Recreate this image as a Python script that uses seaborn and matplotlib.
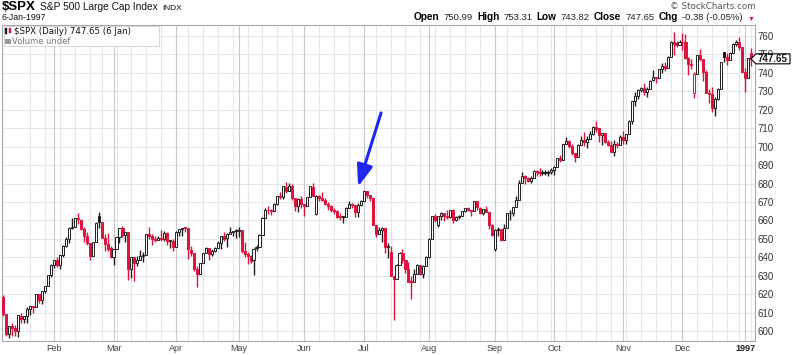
import numpy as np
import pandas as pd
import matplotlib
matplotlib.use('Agg')
import matplotlib.pyplot as plt
import seaborn as sns
from matplotlib.offsetbox import TextArea, HPacker, AnnotationBbox
from matplotlib.patches import Rectangle, Polygon
import matplotlib.transforms as mtrans

# =============================================================================
# data ($SPX daily, 9 Jan 1996 - 6 Jan 1997)
# =============================================================================
holidays = ['1996-02-19', '1996-04-05', '1996-05-27', '1996-07-04',
            '1996-09-02', '1996-11-28', '1996-12-25', '1997-01-01']
dates = pd.bdate_range('1996-01-09', '1997-01-06', freq='C', holidays=holidays)

month_labels = ['Feb', 'Mar', 'Apr', 'May', 'Jun', 'Jul', 'Aug', 'Sep',
                'Oct', 'Nov', 'Dec', '1997']

opens = [
    # Jan
    618.5, 609.5, 598.5, 602.7, 601.8, 599.8, 608.4, 606.4, 608.2, 611.8, 613.4, 612.8, 620.0, 617.0, 621.6, 624.2, 630.2,
    # Feb
    636.0, 638.5, 635.8, 641.4, 646.3, 649.9, 656.1, 656.4, 661.5, 660.5, 655.6, 651.3, 648.0, 640.7, 648.1, 662.5, 659.1, 650.5, 647.2, 644.8,
    # Mar
    640.4, 644.4, 650.8, 655.8, 652.0, 653.7, 633.5, 640.0, 637.1, 638.6, 640.9, 641.4, 652.7, 651.7, 650.0, 649.2, 650.6, 650.0, 653.0, 648.9, 648.9,
    # Apr
    645.5, 653.7, 655.3, 655.9, 655.9, 644.2, 642.2, 633.5, 631.2, 636.7, 642.5, 645.0, 641.6, 643.6, 645.1, 647.9, 651.6, 650.2, 652.9, 653.5, 654.2,
    # May
    654.2, 654.6, 643.4, 641.6, 640.8, 638.3, 644.8, 645.4, 652.1, 661.5, 665.6, 665.4, 664.9, 668.9, 673.2, 672.8, 678.4, 676.0, 678.5, 672.2, 667.9, 671.7,
    # Jun
    669.1, 667.7, 672.6, 678.4, 663.5, 673.3, 672.2, 671.0, 669.0, 667.9, 665.9, 665.2, 662.1, 662.0, 662.1, 666.8, 668.9, 668.5, 664.4, 668.6,
    # Jul
    670.6, 675.9, 673.6, 672.4, 657.4, 652.5, 654.8, 656.1, 645.7, 643.0, 629.8, 628.4, 635.9, 642.5, 638.7, 633.8, 626.9, 626.7, 631.2, 635.9, 630.9, 635.3,
    # Aug
    640.0, 650.0, 662.5, 657.5, 662.4, 664.2, 662.6, 662.1, 665.8, 660.2, 662.1, 662.3, 665.2, 666.6, 665.7, 665.1, 670.7, 667.0, 663.9, 666.4, 664.8, 657.4,
    # Sep
    644.5, 654.7, 655.6, 649.4, 655.7, 663.8, 663.8, 667.3, 671.2, 680.5, 684.0, 682.9, 681.5, 683.0, 687.0, 686.5, 685.6, 685.8, 685.9, 686.2,
    # Oct
    687.3, 689.1, 694.0, 692.8, 701.5, 703.3, 700.6, 696.7, 694.6, 700.7, 703.5, 702.6, 704.4, 707.0, 710.8, 709.9, 706.6, 707.3, 702.3, 700.9, 697.3, 701.5, 700.9,
    # Nov
    705.3, 703.8, 706.7, 714.1, 724.6, 727.7, 730.8, 731.9, 729.6, 731.1, 735.9, 737.6, 737.0, 742.2, 744.0, 742.8, 748.7, 757.0, 756.0, 755.0,
    # Dec
    757.0, 756.6, 748.3, 745.1, 729.0, 739.6, 749.8, 747.5, 740.7, 729.3, 728.6, 721.0, 726.0, 731.5, 751.5, 748.9, 746.9, 751.0, 755.8, 756.8, 753.9,
    # Jan 97
    740.7, 737.0, 750.99,
]
highs = [
    619.3, 609.5, 603.0, 604.4, 603.2, 608.5, 609.9, 608.3, 612.9, 613.8, 613.4, 620.0, 620.2, 621.7, 624.5, 630.3, 636.2,
    638.5, 640.0, 641.4, 646.5, 651.2, 656.5, 661.1, 661.5, 664.2, 661.0, 656.7, 653.6, 648.0, 648.3, 659.1, 664.6, 659.1, 652.7, 653.1, 646.2,
    644.4, 651.0, 655.8, 656.9, 653.7, 653.7, 640.4, 640.0, 640.5, 644.2, 642.9, 652.7, 656.2, 652.6, 651.3, 651.6, 654.6, 654.2, 653.5, 649.6, 650.0,
    654.0, 655.3, 655.9, 656.6, 655.9, 646.3, 642.2, 635.3, 636.8, 642.6, 645.8, 645.0, 644.3, 645.8, 648.7, 651.6, 653.5, 653.2, 656.6, 654.5, 655.2,
    656.4, 654.6, 648.4, 642.8, 641.2, 645.2, 646.9, 652.4, 661.6, 666.9, 667.8, 666.3, 669.5, 673.2, 675.6, 678.4, 681.1, 680.3, 679.9, 672.2, 672.2, 673.4,
    669.1, 672.6, 678.4, 680.3, 673.6, 673.7, 675.2, 672.4, 669.8, 668.4, 666.9, 665.6, 664.0, 662.2, 667.5, 670.3, 669.7, 668.5, 669.5, 671.3,
    675.9, 675.9, 673.6, 672.4, 657.6, 656.6, 656.3, 656.1, 647.8, 646.2, 629.8, 636.6, 643.1, 644.3, 638.7, 637.7, 629.8, 633.6, 636.3, 635.9, 635.6, 640.7,
    650.2, 662.5, 663.6, 662.4, 664.3, 664.2, 665.4, 665.8, 666.2, 662.5, 663.1, 665.2, 666.9, 667.3, 665.7, 670.7, 670.7, 667.1, 666.4, 667.8, 664.8, 658.3,
    655.6, 656.6, 655.6, 657.8, 663.8, 665.6, 667.5, 673.5, 681.9, 686.5, 684.5, 683.4, 684.1, 687.1, 687.1, 688.7, 687.1, 687.6, 687.1, 688.3,
    689.5, 694.1, 695.4, 701.7, 705.2, 703.6, 701.7, 696.7, 701.5, 705.7, 708.1, 705.6, 708.7, 711.1, 714.1, 709.9, 707.3, 707.3, 703.4, 703.2, 703.4, 702.5, 706.3,
    708.7, 707.0, 714.6, 724.6, 729.5, 731.4, 732.6, 734.7, 732.1, 735.9, 741.4, 737.9, 742.2, 745.6, 745.8, 749.1, 757.2, 762.1, 757.4, 757.9,
    761.8, 761.2, 748.4, 747.7, 740.5, 749.8, 753.0, 747.5, 741.5, 731.5, 732.4, 727.1, 731.9, 746.1, 751.6, 750.6, 751.1, 756.2, 758.1, 759.4, 753.9,
    742.8, 748.2, 753.31,
]
lows = [
    608.2, 597.3, 596.0, 597.5, 597.3, 597.0, 604.1, 604.4, 604.5, 608.9, 610.0, 612.8, 615.3, 614.4, 620.4, 624.2, 629.2,
    634.2, 634.5, 633.7, 639.9, 645.4, 647.9, 655.6, 656.4, 657.9, 654.7, 648.1, 646.5, 638.8, 640.7, 648.1, 655.9, 650.2, 643.6, 643.4, 639.5,
    636.0, 644.4, 647.7, 651.1, 648.5, 627.6, 629.0, 627.3, 635.2, 638.6, 637.2, 641.4, 649.9, 646.8, 648.3, 649.2, 648.9, 648.9, 646.6, 645.2, 643.5,
    645.5, 651.8, 651.8, 653.5, 638.9, 640.7, 632.5, 624.1, 631.2, 636.7, 642.1, 638.7, 640.8, 643.0, 645.1, 644.6, 648.9, 645.8, 652.9, 651.6, 650.7,
    650.8, 642.1, 640.3, 636.4, 636.9, 630.5, 643.6, 645.4, 652.1, 661.5, 663.6, 663.0, 664.9, 668.6, 671.7, 671.7, 674.8, 676.0, 671.1, 665.1, 664.8, 666.7,
    662.3, 667.7, 672.6, 673.0, 662.8, 670.6, 670.4, 668.4, 665.7, 664.5, 663.5, 661.5, 660.5, 658.6, 662.1, 666.8, 666.5, 662.1, 661.6, 667.7,
    670.6, 672.1, 670.6, 657.4, 651.1, 652.5, 648.4, 642.4, 639.6, 629.7, 605.9, 628.4, 635.9, 637.1, 631.5, 626.4, 617.5, 626.6, 631.2, 630.5, 629.0, 635.3,
    639.5, 650.0, 659.1, 656.4, 660.1, 659.6, 660.8, 661.1, 658.8, 659.6, 660.8, 662.3, 664.6, 665.1, 662.2, 665.0, 665.8, 663.3, 663.1, 664.4, 655.3, 651.7,
    643.5, 651.5, 648.6, 649.4, 655.7, 660.5, 662.2, 667.3, 671.2, 680.5, 679.7, 680.7, 680.1, 683.0, 683.9, 683.9, 684.8, 684.7, 684.3, 685.2,
    684.4, 689.1, 691.7, 692.8, 701.4, 699.3, 695.7, 691.9, 694.6, 700.7, 700.1, 699.4, 704.4, 706.1, 707.7, 702.6, 700.8, 701.9, 700.6, 696.9, 695.2, 699.5, 700.9,
    701.3, 701.4, 706.7, 712.5, 722.3, 725.9, 729.9, 728.2, 727.2, 731.1, 735.4, 734.4, 737.0, 740.2, 741.0, 742.8, 748.7, 749.5, 754.2, 755.0,
    752.7, 747.6, 738.8, 742.2, 726.3, 739.6, 746.4, 735.8, 729.0, 723.9, 718.9, 716.7, 725.3, 731.5, 745.8, 744.4, 746.9, 751.0, 754.4, 752.3, 740.7,
    729.6, 737.0, 743.82,
]
closes = [
    609.45, 598.48, 602.69, 601.81, 599.82, 608.44, 606.37, 608.24, 611.83, 613.40, 612.79, 619.96, 617.03, 621.62, 624.22, 630.15, 636.02,
    638.46, 635.84, 641.43, 646.33, 649.93, 656.07, 656.37, 661.45, 660.51, 655.58, 651.32, 647.98, 640.65, 648.10, 658.86, 659.08, 650.46, 647.24, 644.75, 640.43,
    644.37, 650.81, 655.79, 652.00, 653.65, 633.50, 640.02, 637.09, 638.55, 640.87, 641.43, 652.65, 651.69, 649.98, 649.19, 650.62, 650.04, 652.97, 648.91, 648.94, 645.50,
    653.73, 655.26, 655.88, 655.86, 644.24, 642.19, 633.50, 631.18, 636.71, 642.49, 645.00, 641.61, 643.61, 645.07, 647.89, 651.58, 650.17, 652.87, 653.46, 654.16, 654.17,
    654.58, 643.38, 641.63, 640.81, 638.26, 644.77, 645.44, 652.09, 661.51, 665.60, 665.42, 664.85, 668.91, 673.15, 672.76, 678.42, 676.00, 678.51, 672.23, 667.93, 671.70, 669.12,
    667.68, 672.56, 678.44, 673.03, 673.31, 672.16, 670.97, 669.04, 667.92, 665.85, 665.16, 662.06, 661.96, 662.10, 666.84, 668.85, 668.48, 664.39, 668.55, 670.63,
    675.88, 673.61, 672.40, 657.44, 652.54, 654.75, 656.06, 645.67, 646.19, 629.80, 628.37, 635.86, 642.49, 638.73, 633.77, 626.87, 626.65, 631.17, 635.90, 630.91, 635.26, 639.95,
    650.02, 662.49, 660.23, 662.38, 664.16, 662.59, 662.10, 665.77, 660.20, 662.05, 662.28, 665.21, 666.58, 665.69, 665.07, 670.68, 667.03, 663.88, 666.40, 664.81, 657.40, 651.99,
    654.72, 655.61, 649.44, 655.68, 663.76, 663.81, 667.28, 671.15, 680.54, 683.98, 682.94, 681.47, 683.00, 687.03, 686.48, 685.61, 685.83, 685.86, 686.19, 687.31,
    689.08, 694.01, 692.78, 701.46, 703.34, 700.64, 696.74, 694.61, 700.66, 703.54, 702.57, 704.41, 706.99, 710.82, 709.85, 706.57, 707.27, 702.29, 700.92, 697.26, 701.50, 700.90, 705.27,
    703.77, 706.73, 714.14, 724.59, 727.65, 730.82, 731.87, 729.56, 731.13, 735.88, 737.62, 737.02, 742.16, 743.95, 742.75, 748.73, 757.03, 755.96, 755.00, 757.02,
    756.56, 748.28, 745.10, 744.38, 739.60, 749.76, 747.54, 740.73, 729.30, 728.64, 720.98, 726.04, 731.54, 745.76, 748.87, 746.92, 751.03, 755.82, 756.79, 753.85, 740.74,
    737.01, 748.03, 747.65,
]

price_ticks = list(range(600, 761, 10))
last_price = 747.65

# =============================================================================
# frame
# =============================================================================
df = pd.DataFrame({'date': dates, 'open': opens, 'high': highs,
                   'low': lows, 'close': closes})
df['i'] = np.arange(len(df))

RED = '#dc143c'
BLACK = '#1e1e1e'
df['colour'] = np.where(df['close'] >= df['close'].shift(1), BLACK, RED)
df['face'] = np.where(df['close'] < df['open'], df['colour'], 'white')
df['bottom'] = df[['open', 'close']].min(axis=1)
df['body'] = (df['close'] - df['open']).abs().clip(lower=0.4)

month_start = df.index[df['date'].dt.month != df['date'].dt.month.shift(1)][1:]
week_no = df['date'].dt.isocalendar().week
week_start = df.index[week_no != week_no.shift(1)][1:]

# =============================================================================
# plot
# =============================================================================
sns.set_theme(style='white')
plt.rcParams['font.family'] = ['Liberation Sans', 'DejaVu Sans']

W, H = 800, 355
fig = plt.figure(figsize=(W / 100, H / 100), dpi=100)
ax = fig.add_axes([2 / W, 1 - 341 / H, 753 / W, 316 / H])

ax.set_xlim(-0.44, 252.34)
ax.set_ylim(594.6, 766.0)

# grid
for p in price_ticks:
    ax.axhline(p, color='#e6e6e6', lw=0.8, zorder=0)
ax.vlines(week_start, 594.6, 766.0, color='#e6e6e6', lw=0.8, zorder=0)
ax.vlines(month_start, 594.6, 766.0, color='#c8c8c8', lw=0.8, zorder=0)

# candles
ax.vlines(df['i'], df['low'], df['high'], colors=df['colour'], lw=1.0, zorder=2)
ax.bar(df['i'], df['body'], bottom=df['bottom'], width=0.7,
       color=df['face'], edgecolor=df['colour'], linewidth=0.7, zorder=3)

# axes styling
for s in ['left', 'top', 'right']:
    ax.spines[s].set_color('#a8a8a8')
    ax.spines[s].set_linewidth(0.8)
ax.spines['bottom'].set_color('#a8a8a8')
ax.spines['bottom'].set_linestyle((0, (1, 1)))
ax.spines['bottom'].set_linewidth(0.8)

ax.yaxis.tick_right()
ax.set_yticks(price_ticks)
ax.tick_params(axis='y', length=0, pad=2, labelsize=7, labelcolor='#333333')
ax.set_xticks(month_start)
ax.set_xticklabels(month_labels)
ax.tick_params(axis='x', length=0, pad=2, labelsize=6.5, labelcolor='#444444')
ax.get_xticklabels()[-1].set_fontweight('bold')
ax.get_xticklabels()[-1].set_color('#222222')

# blue arrow
ax.annotate('', xy=(119.1, 678.3), xytext=(126.8, 718.3),
            arrowprops=dict(arrowstyle='-|>,head_length=1.1,head_width=0.4',
                            color='#1f26f0', lw=2.2, shrinkA=0, shrinkB=0),
            zorder=6)

# last price tag (pointed box over the axis)
y_tag = ax.transData.transform((0, last_price))[1]
tag = Polygon([(751, y_tag), (756, y_tag + 5), (790, y_tag + 5),
               (790, y_tag - 5), (756, y_tag - 5)], closed=True,
              transform=mtrans.IdentityTransform(), fc='white', ec='black',
              lw=0.8, zorder=10)
fig.add_artist(tag)
fig.text(773 / W, y_tag / H, f'{last_price:.2f}', fontsize=7, fontweight='bold',
         ha='center', va='center', color='#111111', zorder=11)


# header
def px(x, y):
    return x / W, 1 - y / H


def text_row(parts, x, y, align=(0, 0.5)):
    boxes = [TextArea(t, textprops=dict(fontsize=fs, fontweight=fw, color=c,
                                         family=['Liberation Sans', 'DejaVu Sans']))
             for t, fs, fw, c in parts]
    pack = HPacker(children=boxes, align='baseline', pad=0, sep=3)
    ab = AnnotationBbox(pack, px(x, y), xycoords='figure fraction',
                        box_alignment=align, frameon=False, pad=0)
    fig.add_artist(ab)


text_row([('$SPX', 9.5, 'bold', 'black'),
          ('S&P 500 Large Cap Index', 7.3, 'normal', '#111111'),
          ('INDX', 6, 'normal', '#111111')], 2, 6.5)
fig.text(*px(2, 18), '6-Jan-1997', fontsize=6.3, va='center', ha='left',
         color='#111111')
fig.text(*px(756, 6.5), '\u00a9 StockCharts.com', fontsize=6.3, va='center',
         ha='right', color='#555555', family=['DejaVu Sans'])
text_row([('Open', 7.2, 'bold', 'black'), ('750.99', 6.8, 'normal', '#222222'),
          ('High', 7.2, 'bold', 'black'), ('753.31', 6.8, 'normal', '#222222'),
          ('Low', 7.2, 'bold', 'black'), ('743.82', 6.8, 'normal', '#222222'),
          ('Close', 7.2, 'bold', 'black'), ('747.65', 6.8, 'normal', '#222222'),
          ('Chg', 7.2, 'bold', 'black'), ('-0.38 (-0.05%)', 6.8, 'normal', '#222222'),
          ('\u25bc', 5, 'normal', RED)], 754, 17.5, align=(1, 0.5))

# legend box inside plot
ax.add_patch(Rectangle((2 / 753, 1 - 21 / 316), 155 / 753, 20 / 316,
                       transform=ax.transAxes, fc='white', ec='#d0d0d0',
                       lw=0.6, zorder=8))
fig.add_artist(Rectangle(px(5, 34), 2 / W, 6 / H, fc=BLACK, ec=BLACK, lw=0.3))
fig.add_artist(Rectangle(px(8.5, 33), 2 / W, 5 / H, fc=RED, ec=RED, lw=0.3))
fig.text(*px(14, 31.5), r'\$SPX (Daily) 747.65 (6 Jan)', fontsize=6.2,
         va='center', ha='left', family=['DejaVu Sans'], color='#111111')
fig.add_artist(Rectangle(px(4.5, 44), 6 / W, 5 / H, fc='#999999', ec='none'))
fig.text(*px(12, 41.5), 'Volume undef', fontsize=6, va='center', ha='left',
         family=['DejaVu Sans'], color='#777777')

fig.savefig('out.png', dpi=100)
